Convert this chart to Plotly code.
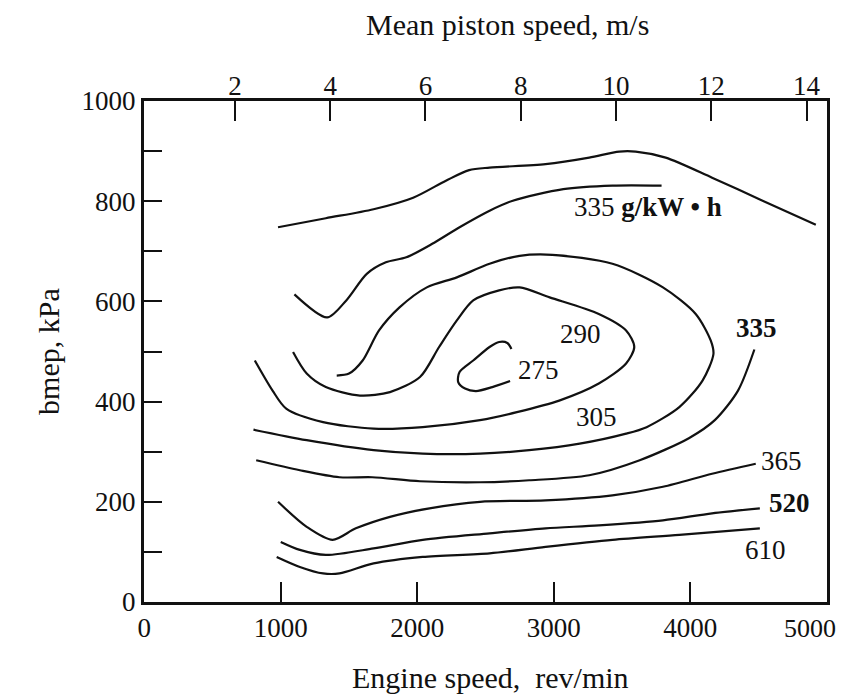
import plotly.graph_objects as go

# Engine speed (rev/min) and bmep (kPa)

# maximum bmep (wide open throttle) line
wot_rpm = [980, 1330, 1680, 1970, 2210, 2380, 2530, 2940, 3260, 3480, 3600, 3820, 4160, 4530, 4920]
wot_bmep = [748, 766, 784, 807, 841, 862, 867, 874, 887, 899, 899, 887, 847, 801, 753]

# 335 g/kW.h, upper branch
bsfc335_top_rpm = [1100, 1340, 1480, 1630, 1770, 1920, 2110, 2310, 2530, 2700, 3070, 3430, 3790]
bsfc335_top_bmep = [614, 568, 602, 655, 678, 688, 715, 748, 781, 801, 824, 831, 831]

# 335 g/kW.h, lower branch
bsfc335_low_rpm = [4470, 4350, 4180, 3990, 3630, 3260, 2820, 2460, 2020, 1670, 1430, 1140, 820]
bsfc335_low_bmep = [504, 422, 363, 327, 283, 253, 243, 239, 241, 249, 249, 263, 283]

# 305 g/kW.h
bsfc305_rpm = [1410, 1500, 1600, 1720, 1870, 2070, 2290, 2530, 2750, 2990, 3430, 3800, 4040,
               4150, 4170, 4090, 3920, 3680, 3530, 3190, 2820, 2460, 2040, 1680, 1190, 800]
bsfc305_bmep = [452, 456, 482, 542, 588, 628, 648, 675, 691, 693, 675, 628, 575,
                522, 495, 442, 389, 349, 336, 316, 303, 296, 296, 303, 323, 344]

# 290 g/kW.h
bsfc290_rpm = [1090, 1190, 1330, 1580, 1800, 2020, 2160, 2290, 2410, 2600, 2750, 2970, 3330,
               3530, 3590, 3530, 3330, 3040, 2730, 2460, 2040, 1680, 1310, 1040, 940, 810]
bsfc290_bmep = [499, 456, 429, 412, 419, 449, 509, 562, 602, 622, 628, 608, 575,
                542, 509, 476, 436, 402, 379, 363, 349, 346, 359, 386, 422, 482]

# 275 g/kW.h
bsfc275_rpm = [2690, 2660, 2600, 2530, 2410, 2310, 2300, 2350, 2430, 2550, 2680]
bsfc275_bmep = [505, 517, 519, 509, 482, 459, 439, 426, 421, 429, 441]

# 365 g/kW.h
bsfc365_rpm = [980, 1190, 1380, 1550, 1800, 2090, 2460, 2940, 3430, 3800, 4160, 4480]
bsfc365_bmep = [200, 150, 124, 147, 170, 187, 200, 203, 213, 230, 256, 276]

# 520 g/kW.h
bsfc520_rpm = [1000, 1140, 1330, 1680, 2040, 2530, 2940, 3330, 3800, 4160, 4510]
bsfc520_bmep = [120, 104, 94, 107, 124, 137, 147, 153, 163, 177, 187]

# 610 g/kW.h
bsfc610_rpm = [970, 1140, 1310, 1430, 1680, 2040, 2530, 2940, 3430, 3920, 4510]
bsfc610_bmep = [90, 70, 57, 57, 77, 90, 97, 110, 124, 134, 147]

# curve labels
label_text = ["335 <b>g/kW • h</b>", "290", "275", "305", "<b>335</b>", "365", "<b>520</b>", "610"]
label_rpm = [3688, 3194, 2889, 3310, 4488, 4671, 4725, 4555]
label_bmep = [789, 534, 464, 369, 547, 281, 197, 104]

# axis ticks (last rpm label is drawn separately so it stays inside the page)
rpm_ticks = [0, 1000, 2000, 3000, 4000, 5000]
rpm_ticktext = ["0", "1000", "2000", "3000", "4000", ""]
bmep_ticks = [0, 100, 200, 300, 400, 500, 600, 700, 800, 900, 1000]
bmep_ticktext = ["0", "", "200", "", "400", "", "600", "", "800", "", "1000"]
piston_ticks = [2, 4, 6, 8, 10, 12, 14]

FONT = "Liberation Serif, Times New Roman, serif"
INK = "#111111"

curves = [
    (wot_rpm, wot_bmep),
    (bsfc335_top_rpm, bsfc335_top_bmep),
    (bsfc335_low_rpm, bsfc335_low_bmep),
    (bsfc305_rpm, bsfc305_bmep),
    (bsfc290_rpm, bsfc290_bmep),
    (bsfc275_rpm, bsfc275_bmep),
    (bsfc365_rpm, bsfc365_bmep),
    (bsfc520_rpm, bsfc520_bmep),
    (bsfc610_rpm, bsfc610_bmep),
]

fig = go.Figure()
for x, y in curves:
    fig.add_trace(go.Scatter(
        x=x, y=y, mode="lines",
        line=dict(color=INK, width=2.2, shape="spline", smoothing=0.8),
        showlegend=False, hoverinfo="skip",
    ))

# empty trace so the mean piston speed axis gets drawn on top
fig.add_trace(go.Scatter(x=piston_ticks, y=[None] * len(piston_ticks), xaxis="x2",
                         mode="lines", showlegend=False, hoverinfo="skip"))

for text, x, y in zip(label_text, label_rpm, label_bmep):
    fig.add_annotation(x=x, y=y, xref="x", yref="y", text=text, showarrow=False,
                       xanchor="center", yanchor="middle",
                       font=dict(family=FONT, size=27, color=INK))

# "5000" sits against the right edge in the original
fig.add_annotation(x=rpm_ticks[-1], y=0, xref="x", yref="paper", text="5000", showarrow=False,
                   xanchor="center", yanchor="middle", xshift=-17, yshift=-26,
                   font=dict(family=FONT, size=26, color=INK))

# axis titles placed as annotations (top one sits right of centre in the original)
title_font = dict(family=FONT, size=30, color=INK)
fig.add_annotation(x=0.532, y=1.152, xref="paper", yref="paper", text="Mean piston speed, m/s",
                   showarrow=False, xanchor="center", yanchor="middle", font=title_font)
fig.add_annotation(x=0.507, y=-0.15, xref="paper", yref="paper", text="Engine speed,  rev/min",
                   showarrow=False, xanchor="center", yanchor="middle", font=title_font)
fig.add_annotation(x=-0.14, y=0.5, xref="paper", yref="paper", text="bmep, kPa", textangle=-90,
                   showarrow=False, xanchor="center", yanchor="middle", font=title_font)

fig.update_layout(
    width=842, height=692,
    margin=dict(l=136, r=23, t=93, b=98, autoexpand=False),
    paper_bgcolor="white", plot_bgcolor="white",
    font=dict(family=FONT, size=27, color=INK),
    xaxis=dict(
        range=[-2, 5002], tickvals=rpm_ticks, ticktext=rpm_ticktext, ticks="inside",
        ticklen=20, tickwidth=2, tickcolor=INK, showline=True, linewidth=3, linecolor=INK,
        mirror=True, showgrid=False, zeroline=False, ticklabelstandoff=0, automargin=False,
    ),
    xaxis2=dict(
        range=[0.09, 14.43], overlaying="x", side="top", anchor="y",
        tickvals=piston_ticks, ticks="inside", ticklen=20, tickwidth=2, tickcolor=INK,
        showgrid=False, zeroline=False, showline=False, ticklabeloverflow="allow",
        automargin=False,
    ),
    yaxis=dict(
        range=[0, 1000], tickvals=bmep_ticks, ticktext=bmep_ticktext, ticks="inside",
        ticklen=18, tickwidth=2, tickcolor=INK, showline=True, linewidth=3,
        linecolor=INK, mirror=True, showgrid=False, zeroline=False, automargin=False,
    ),
)

fig.write_html("out.html")
